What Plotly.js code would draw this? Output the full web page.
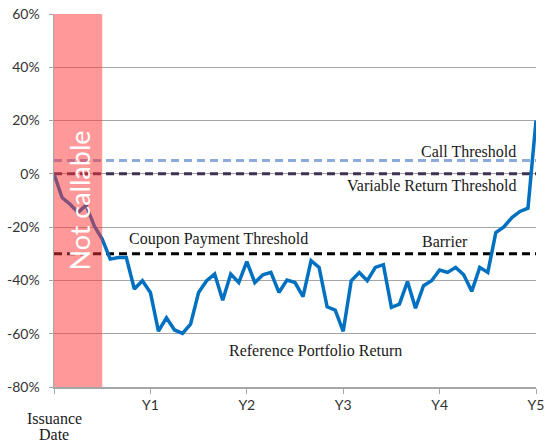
<!DOCTYPE html>
<html>
<head>
<meta charset="utf-8">
<script src="https://cdn.plot.ly/plotly-3.0.1.min.js"></script>
<style>html,body{margin:0;padding:0;background:#fff;}#chart{width:545px;height:444px;}</style>
</head>
<body>
<div id="chart"></div>
<script>
// Monthly reference portfolio return (%), month 0..60
const months = Array.from({length: 61}, (_, i) => i);
const portfolioReturn = [
  0, -8.9, -11.4, -14.5, -11.7, -19.5, -24.5, -32, -31.4, -31.4,
  -43.2, -40.1, -44.5, -59, -54, -58.6, -59.9, -56.4, -44.5, -40.1,
  -37.6, -47.4, -37.6, -40.8, -32.9, -40.8, -37.9, -37, -44.5, -39.9,
  -40.8, -46.1, -32.6, -35.1, -49.9, -51.1, -59.1, -40.1, -37, -40.1,
  -35.1, -34.1, -50.1, -48.9, -40.4, -50.4, -42, -40.1, -36.1, -37,
  -35.1, -37.9, -44.1, -35.1, -37, -22, -19.9, -16.4, -14.1, -12.9, 20
];
const thresholdNames = ["Call Threshold", "Variable Return Threshold", "Coupon Payment Threshold"];
const thresholdValues = [5, 0, -30];
const thresholdColors = ["#8EA9DB", "#3F3151", "#000000"];
const tickYears = [0, 1, 2, 3, 4, 5];
const tickLabels = ["", "Y1", "Y2", "Y3", "Y4", "Y5"];
const notCallableEnd = 0.5;

const years = months.map(m => m / 12);
const traces = [];
thresholdValues.forEach((v, i) => {
  traces.push({
    x: [0, 5], y: [v, v], mode: "lines", name: thresholdNames[i],
    line: {color: thresholdColors[i], width: 3, dash: "8px,5px"},
    hoverinfo: "skip"
  });
});
traces.push({
  x: years, y: portfolioReturn, mode: "lines", name: "Reference Portfolio Return",
  line: {color: "#0070C0", width: 3.5}
});

const serif = {family: "Liberation Serif, Times New Roman, serif", size: 16, color: "#1a1a1a"};
const layout = {
  width: 545, height: 444,
  margin: {l: 54, r: 9, t: 14, b: 57},
  paper_bgcolor: "#fff", plot_bgcolor: "#fff",
  showlegend: false,
  xaxis: {
    range: [0, 5], tickvals: tickYears, ticktext: tickLabels,
    showgrid: false, zeroline: false, showline: true, linecolor: "#A6A6A6", linewidth: 1.5,
    ticks: "outside", ticklen: 5, tickcolor: "#A6A6A6",
    tickfont: {family: "Lato, sans-serif", size: 14, color: "#333"}
  },
  yaxis: {
    range: [-80, 60], tickvals: [-80, -60, -40, -20, 0, 20, 40, 60],
    ticktext: ["-80%", "-60%", "-40%", "-20%", "0%", "20%", "40%", "60%"],
    showgrid: true, gridcolor: "#A6A6A6", gridwidth: 1.2, zeroline: false,
    showline: true, linecolor: "#A6A6A6", linewidth: 1.5,
    ticks: "outside", ticklen: 4, tickcolor: "#A6A6A6", ticklabelstandoff: 6,
    tickfont: {family: "Lato, sans-serif", size: 14, color: "#333"}
  },
  shapes: [{
    type: "rect", xref: "x", yref: "y", x0: 0, x1: notCallableEnd, y0: -80, y1: 60,
    fillcolor: "rgba(255,51,51,0.5)", line: {width: 0}, layer: "above"
  }],
  annotations: [
    {x: 0.26, y: -10, xref: "x", yref: "y", text: "Not callable", textangle: -90, showarrow: false,
     font: {family: "Lato, sans-serif", size: 27, color: "#fff"}},
    {x: 4.3, y: 8.3, xref: "x", yref: "y", text: "Call Threshold", showarrow: false, font: serif},
    {x: 3.92, y: -4.5, xref: "x", yref: "y", text: "Variable Return Threshold", showarrow: false, font: serif},
    {x: 1.71, y: -24.5, xref: "x", yref: "y", text: "Coupon Payment Threshold", showarrow: false, font: serif},
    {x: 4.06, y: -25.3, xref: "x", yref: "y", text: "Barrier", showarrow: false, font: serif},
    {x: 2.71, y: -66.2, xref: "x", yref: "y", text: "Reference Portfolio Return", showarrow: false, font: serif},
    {x: 0, y: 0, xref: "x", yref: "paper", yshift: -31, yanchor: "middle", text: "Issuance",
     showarrow: false, font: serif, borderpad: 0},
    {x: 0, y: 0, xref: "x", yref: "paper", yshift: -47, yanchor: "middle", text: "Date",
     showarrow: false, font: serif, borderpad: 0}
  ]
};
Plotly.newPlot("chart", traces, layout, {displayModeBar: false, staticPlot: true});
</script>
</body>
</html>
